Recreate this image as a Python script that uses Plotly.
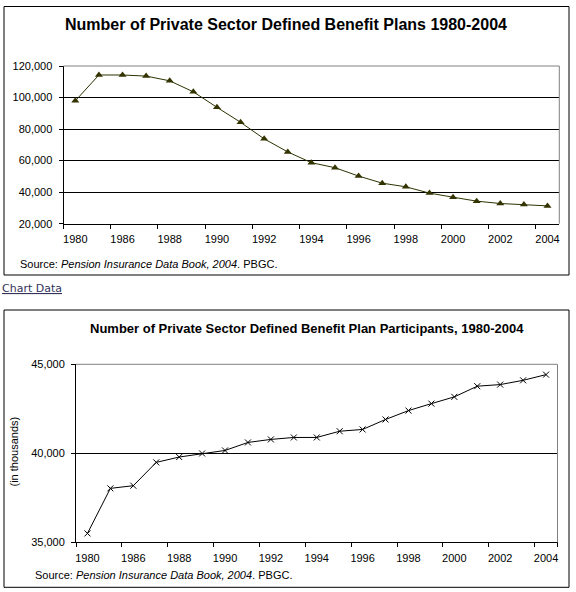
import plotly.graph_objects as go

W, H = 576, 592

years = ["1980", "1985", "1986", "1987", "1988", "1989", "1990", "1991", "1992",
         "1993", "1994", "1995", "1996", "1997", "1998", "1999", "2000", "2001",
         "2002", "2003", "2004"]
plans = [97900, 114300, 114300, 113600, 110600, 103600, 93800, 84300, 73800,
         65500, 58700, 55500, 50200, 45700, 43400, 39400, 36800, 34300,
         32800, 32100, 31300]
participants = [35500, 38030, 38180, 39490, 39790, 39990, 40160, 40610, 40780,
                40890, 40890, 41240, 41340, 41900, 42400, 42790, 43170, 43770,
                43860, 44100, 44420]
label_years = years[::2]

title_top = "Number of Private Sector Defined Benefit Plans 1980-2004"
title_bot = "Number of Private Sector Defined Benefit Plan Participants, 1980-2004"
source_html = "Source: <i>Pension Insurance Data Book, 2004</i>. PBGC."

def px(x):
    return x / W

def py(y):
    return 1 - y / H

FONT = "Liberation Sans, Arial, sans-serif"

fig = go.Figure()
fig.add_trace(go.Scatter(
    x=years, y=plans, mode="lines+markers", xaxis="x", yaxis="y",
    line=dict(color="#2b3300", width=1),
    marker=dict(symbol="triangle-up", size=7, color="#333300"),
    showlegend=False, cliponaxis=False))
fig.add_trace(go.Scatter(
    x=years, y=participants, mode="lines+markers", xaxis="x2", yaxis="y2",
    line=dict(color="black", width=1),
    marker=dict(symbol="x-thin", size=6, color="black",
                line=dict(color="black", width=1)),
    showlegend=False, cliponaxis=False))

axis_common = dict(showline=True, linecolor="black", linewidth=1,
                   ticks="outside", ticklen=4, tickcolor="black", tickwidth=1,
                   tickfont=dict(family=FONT, size=11, color="black"),
                   zeroline=False, automargin=False, tickangle=0)

fig.update_layout(
    width=W, height=H, margin=dict(l=0, r=0, t=0, b=0, autoexpand=False),
    paper_bgcolor="white", plot_bgcolor="white",
    xaxis=dict(domain=[px(63.5), px(559.3)], anchor="y", type="category",
               categoryorder="array", categoryarray=years,
               range=[-0.5, 20.5], tickmode="array", tickvals=label_years,
               ticktext=label_years, tickson="boundaries", showgrid=False,
               ticklabelstandoff=5, **axis_common),
    yaxis=dict(domain=[py(223.7), py(66)], anchor="x", range=[20000, 120000],
               tickmode="array", tickvals=[20000, 40000, 60000, 80000, 100000, 120000],
               tickformat=",", showgrid=True, gridcolor="black", gridwidth=1,
               ticklabelstandoff=4, **axis_common),
    xaxis2=dict(domain=[px(76), px(557.5)], anchor="y2", type="category",
                categoryorder="array", categoryarray=years,
                range=[-0.5, 20.5], tickmode="array", tickvals=label_years,
                ticktext=label_years, tickson="boundaries", showgrid=False,
                ticklabelstandoff=5, **axis_common),
    yaxis2=dict(domain=[py(542.3), py(364.3)], anchor="x2", range=[35000, 45000],
                tickmode="array", tickvals=[35000, 40000, 45000],
                tickformat=",", showgrid=True, gridcolor="black", gridwidth=1,
                ticklabelstandoff=4, **axis_common),
)

shapes = [
    dict(type="rect", xref="paper", yref="paper", x0=px(4), x1=px(569),
         y0=py(275), y1=py(6.5), line=dict(color="black", width=1)),
    dict(type="rect", xref="paper", yref="paper", x0=px(4), x1=px(569),
         y0=py(587.3), y1=py(310), line=dict(color="black", width=1)),
    dict(type="line", xref="x domain", yref="y domain", x0=0, x1=1, y0=1, y1=1,
         line=dict(color="#808080", width=1), layer="above"),
    dict(type="line", xref="x domain", yref="y domain", x0=1, x1=1, y0=0, y1=1,
         line=dict(color="#808080", width=1), layer="above"),
    dict(type="line", xref="x2 domain", yref="y2 domain", x0=0, x1=1, y0=1, y1=1,
         line=dict(color="#808080", width=1), layer="above"),
    dict(type="line", xref="x2 domain", yref="y2 domain", x0=1, x1=1, y0=0, y1=1,
         line=dict(color="#808080", width=1), layer="above"),
]
fig.update_layout(shapes=shapes)

annotations = [
    dict(text="<b>" + title_top + "</b>", x=px(286), y=py(24), xref="paper", yref="paper",
         xanchor="center", yanchor="middle", showarrow=False,
         font=dict(family=FONT, size=16, color="black")),
    dict(text="<b>" + title_bot + "</b>", x=px(307), y=py(328), xref="paper", yref="paper",
         xanchor="center", yanchor="middle", showarrow=False,
         font=dict(family=FONT, size=13, color="black")),
    dict(text=source_html, x=px(18), y=py(264), xref="paper", yref="paper",
         xanchor="left", yanchor="middle", showarrow=False,
         font=dict(family=FONT, size=11, color="black")),
    dict(text=source_html, x=px(33), y=py(575), xref="paper", yref="paper",
         xanchor="left", yanchor="middle", showarrow=False,
         font=dict(family=FONT, size=11, color="black")),
    dict(text="(in thousands)", x=px(13.5), y=py(452), xref="paper", yref="paper",
         xanchor="center", yanchor="middle", showarrow=False, textangle=-90,
         font=dict(family=FONT, size=11, color="black")),
    dict(text="<u>Chart Data</u>", x=px(0), y=py(288), xref="paper", yref="paper",
         xanchor="left", yanchor="middle", showarrow=False,
         font=dict(family="DejaVu Sans, Verdana, sans-serif", size=11, color="#33335c")),
]
fig.update_layout(annotations=annotations)

fig.write_html("out.html", config={"displayModeBar": False},
               post_script="document.body.style.margin='0px';document.body.style.overflow='hidden';")
